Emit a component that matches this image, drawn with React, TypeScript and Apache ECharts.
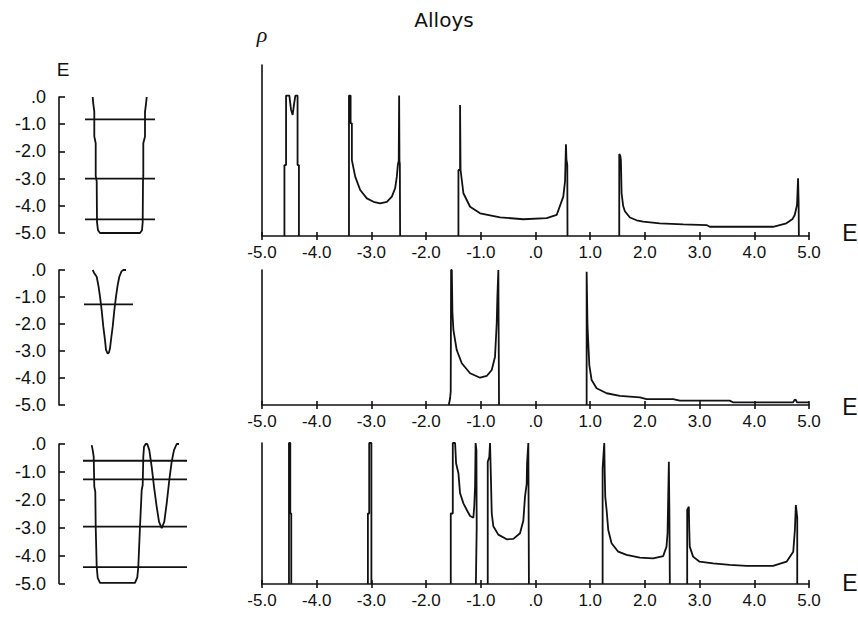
import React, { useEffect, useRef } from 'react';
import * as echarts from 'echarts';

// ---------- Left panels: potential profiles V(x) and energy levels (x in arbitrary position units) ----------
const wellTop: number[][] = [[33.7,0],[34.3,-0.25],[35.3,-0.55],[35.3,-1.45],[36.7,-1.7],[36.7,-2.9],[37.7,-3.1],[38,-4.6],[39,-4.9],[41,-5.0],[81,-5.0],[83,-4.9],[83.7,-4.6],[84,-3.1],[84.3,-2.9],[84.3,-1.7],[86,-1.45],[86,-0.55],[87,-0.25],[87.7,0]];
const levelsTop: number[] = [-0.82, -3.0, -4.5];
const levelSpanTop: number[] = [26, 96];

const wellMid: number[][] = [[33.7,0],[35,-0.1],[37.7,-0.25],[39.5,-0.6],[41,-0.99],[42.7,-1.5],[44.3,-2.1],[46,-2.6],[47,-2.96],[48.7,-3.1],[50,-3.05],[51,-2.9],[52.3,-2.5],[53.7,-2.1],[55.3,-1.5],[57,-0.99],[58.5,-0.6],[60.3,-0.25],[62.5,-0.05],[64.3,0],[67,0]];
const levelsMid: number[] = [-1.27];
const levelSpanMid: number[] = [25, 74];

const wellBot: number[][] = [[32.7,-0.04],[33.7,-0.22],[34.7,-0.46],[35.3,-1.53],[36.3,-1.71],[36.7,-2.96],[37.7,-4.4],[38.7,-4.8],[41,-4.98],[76,-4.98],[78.3,-4.78],[79.3,-4.4],[81,-2.96],[82.7,-1.65],[83.7,-1.47],[84.3,-0.46],[85,-0.1],[86.7,0],[88.3,0],[90.3,-0.22],[92.7,-0.82],[95,-1.53],[97.7,-2.25],[100,-2.78],[102.7,-3.02],[105.3,-2.78],[107.7,-2.13],[110.3,-1.29],[112.7,-0.63],[115,-0.22],[117.7,0],[120,0]];
const levelsBot: number[] = [-0.6, -1.27, -2.96, -4.41];
const levelSpanBot: number[] = [24, 128];

// ---------- Right panels: density of states rho(E), bands as [E, rho] ----------
const topBand1: number[][] = [[-4.59,0],[-4.59,0.415],[-4.56,0.415],[-4.56,0.821],[-4.50,0.821],[-4.47,0.74],[-4.44,0.708],[-4.41,0.78],[-4.39,0.821],[-4.35,0.821],[-4.35,0.415],[-4.325,0.415],[-4.325,0]];
const topBand2: number[][] = [[-3.41,0],[-3.41,0.821],[-3.38,0.821],[-3.38,0.659],[-3.357,0.659],[-3.357,0.444],[-3.296,0.347],[-3.205,0.269],[-3.083,0.22],[-2.962,0.2],[-2.84,0.191],[-2.717,0.2],[-2.626,0.23],[-2.566,0.279],[-2.535,0.347],[-2.517,0.415],[-2.5,0.44],[-2.493,0.821],[-2.487,0.44],[-2.48,0.42],[-2.475,0]];
const topBand3: number[][] = [[-1.409,0],[-1.409,0.386],[-1.379,0.386],[-1.379,0.766],[-1.37,0.766],[-1.37,0.386],[-1.318,0.25],[-1.196,0.171],[-1.013,0.133],[-0.648,0.109],[-0.223,0.098],[0.205,0.104],[0.387,0.123],[0.508,0.23],[0.54,0.32],[0.557,0.536],[0.565,0.45],[0.581,0.415],[0.585,0]];
const topBand4: number[][] = [[1.531,0],[1.531,0.48],[1.55,0.47],[1.561,0.444],[1.574,0.25],[1.603,0.175],[1.634,0.145],[1.726,0.108],[1.848,0.092],[1.969,0.084],[2.272,0.074],[2.7,0.068],[3.126,0.064],[3.186,0.054],[4.342,0.054],[4.587,0.074],[4.7,0.1],[4.739,0.123],[4.781,0.181],[4.8,0.337],[4.81,0.2],[4.815,0]];

const midBand1: number[][] = [[-1.585,0],[-1.561,0.05],[-1.55,0.1],[-1.543,1.0],[-1.53,1.0],[-1.519,0.691],[-1.501,0.556],[-1.44,0.407],[-1.348,0.309],[-1.196,0.235],[-1.013,0.202],[-0.891,0.215],[-0.8,0.259],[-0.74,0.358],[-0.709,0.605],[-0.697,0.802],[-0.679,1.0],[-0.672,1.0],[-0.667,0]];
const midBand2: number[][] = [[0.935,0],[0.935,0.987],[0.95,0.6],[0.965,0.457],[0.984,0.296],[1.026,0.185],[1.117,0.124],[1.3,0.087],[1.543,0.067],[1.908,0.057],[2.03,0.044],[2.516,0.044],[2.64,0.032],[3.55,0.032],[3.61,0.02],[4.71,0.02],[4.74,0.04],[4.76,0.037],[4.78,0.02],[5.0,0.02]];

const botBand1: number[][] = [[-4.507,0],[-4.507,1.0],[-4.483,1.0],[-4.483,0.5],[-4.465,0.5],[-4.465,0]];
const botBand2: number[][] = [[-3.064,0],[-3.064,0.5],[-3.04,0.5],[-3.04,1.0],[-3.0,1.0],[-3.0,0]];
const botBand3: number[][] = [[-1.549,0],[-1.549,0.5],[-1.512,0.5],[-1.512,1.0],[-1.47,1.0],[-1.452,0.856],[-1.409,0.785],[-1.379,0.643],[-1.318,0.572],[-1.256,0.525],[-1.196,0.482],[-1.136,0.47],[-1.12,0.55],[-1.105,0.69],[-1.095,1.0],[-1.08,0.95],[-1.075,0.4],[-1.09,0]];
const botBand4: number[][] = [[-0.873,0],[-0.873,0.867],[-0.845,0.9],[-0.831,1.0],[-0.823,1.0],[-0.815,0.75],[-0.8,0.5],[-0.771,0.41],[-0.68,0.35],[-0.526,0.317],[-0.405,0.32],[-0.283,0.36],[-0.222,0.45],[-0.192,0.62],[-0.161,0.71],[-0.155,0.85],[-0.131,1.0],[-0.12,1.0],[-0.12,0]];
const botBand5: number[][] = [[1.227,0],[1.227,0.82],[1.257,1.0],[1.265,0.8],[1.275,0.62],[1.3,0.525],[1.33,0.383],[1.391,0.289],[1.512,0.229],[1.665,0.206],[1.908,0.187],[2.151,0.182],[2.334,0.198],[2.395,0.265],[2.414,0.36],[2.438,0.867],[2.448,0.5],[2.456,0.5],[2.456,0]];
const botBand6: number[][] = [[2.773,0],[2.773,0.525],[2.803,0.548],[2.81,0.4],[2.82,0.265],[2.881,0.194],[3.0,0.158],[3.247,0.147],[3.552,0.135],[3.857,0.128],[4.342,0.128],[4.59,0.158],[4.712,0.229],[4.742,0.383],[4.76,0.56],[4.785,0.47],[4.785,0]];

const energyMin = -5;
const energyMax = 5;
const energyStep = 1;

const INK = '#111';
const FONT = '"Liberation Sans", Arial, sans-serif';

const fmt = (v: number) => (Math.abs(v) < 1e-9 ? '.0' : v.toFixed(1));

export default function App() {
  const ref = useRef<HTMLDivElement>(null);

  useEffect(() => {
    if (!ref.current) return;
    const chart = echarts.init(ref.current, undefined, { renderer: 'svg' });

    const leftGrids = [
      { left: 59, top: 97, width: 140, height: 136 },
      { left: 59, top: 270, width: 140, height: 135 },
      { left: 59, top: 444, width: 140, height: 139.5 },
    ];
    const rightGrids = [
      { left: 262, top: 65, width: 547, height: 171 },
      { left: 262, top: 270, width: 547, height: 135 },
      { left: 262, top: 443, width: 547, height: 141 },
    ];
    const grid = [...leftGrids, ...rightGrids];

    const xAxis: any[] = [];
    const yAxis: any[] = [];
    // left panels (grid 0..2)
    for (let i = 0; i < 3; i++) {
      xAxis.push({ type: 'value', gridIndex: i, min: 0, max: 140, show: false });
      yAxis.push({
        type: 'value', gridIndex: i, min: energyMin, max: 0, interval: energyStep,
        axisLine: { show: true, onZero: false, lineStyle: { color: INK, width: 1.6 } },
        axisTick: { show: true, inside: true, length: 6, lineStyle: { color: INK, width: 1.6 } },
        axisLabel: { formatter: fmt, color: INK, fontSize: 18, fontFamily: FONT, margin: 13 },
        splitLine: { show: false },
      });
    }
    // right panels (grid 3..5)
    for (let i = 3; i < 6; i++) {
      xAxis.push({
        type: 'value', gridIndex: i, min: energyMin, max: energyMax, interval: energyStep, position: 'bottom',
        axisLine: { show: true, onZero: false, lineStyle: { color: INK, width: 1.6 } },
        axisTick: { show: true, inside: false, length: 4, lineStyle: { color: INK, width: 1.6 } },
        axisLabel: { formatter: fmt, color: INK, fontSize: 17, fontFamily: FONT, margin: 8 },
        splitLine: { show: false },
      });
      yAxis.push({
        type: 'value', gridIndex: i, min: 0, max: 1, position: 'left',
        axisLine: { show: true, onZero: false, lineStyle: { color: INK, width: 1.6 } },
        axisTick: { show: false }, axisLabel: { show: false }, splitLine: { show: false },
      });
    }
    // inner ticks overlay for right panels (xAxis 6..8)
    for (let i = 3; i < 6; i++) {
      xAxis.push({
        type: 'value', gridIndex: i, min: energyMin, max: energyMax, interval: energyStep, position: 'bottom', offset: 0,
        axisLine: { show: false, onZero: false },
        axisTick: { show: true, inside: true, length: 4, lineStyle: { color: INK, width: 1.6 } },
        axisLabel: { show: false }, splitLine: { show: false },
      });
    }

    const line = (data: number[][], idx: number, name: string) => ({
      type: 'line', name, xAxisIndex: idx, yAxisIndex: idx, data,
      showSymbol: false, symbol: 'none', silent: true, clip: true,
      lineStyle: { color: INK, width: 1.8 },
    });

    const series: any[] = [];
    series.push(line(wellTop, 0, 'wellTop'));
    levelsTop.forEach((e, k) => series.push(line([[levelSpanTop[0], e], [levelSpanTop[1], e]], 0, 'levelTop' + k)));
    series.push(line(wellMid, 1, 'wellMid'));
    levelsMid.forEach((e, k) => series.push(line([[levelSpanMid[0], e], [levelSpanMid[1], e]], 1, 'levelMid' + k)));
    series.push(line(wellBot, 2, 'wellBot'));
    levelsBot.forEach((e, k) => series.push(line([[levelSpanBot[0], e], [levelSpanBot[1], e]], 2, 'levelBot' + k)));

    [topBand1, topBand2, topBand3, topBand4].forEach((b, k) => series.push(line(b, 3, 'top' + k)));
    [midBand1, midBand2].forEach((b, k) => series.push(line(b, 4, 'mid' + k)));
    [botBand1, botBand2, botBand3, botBand4, botBand5, botBand6].forEach((b, k) => series.push(line(b, 5, 'bot' + k)));

    const txt = (text: string, x: number, y: number, size: number, family = FONT, style = 'normal') => ({
      type: 'text', x, y, silent: true,
      style: { text, fill: INK, fontSize: size, fontFamily: family, fontStyle: style, align: 'center', verticalAlign: 'middle' },
    });

    chart.setOption({
      animation: false,
      backgroundColor: '#fff',
      grid,
      xAxis,
      yAxis,
      series,
      graphic: [
        txt('Alloys', 444, 20, 20, '"DejaVu Sans", sans-serif'),
        txt('ρ', 262, 34, 22, '"Liberation Serif", "DejaVu Serif", serif', 'italic'),
        txt('E', 63, 69, 19),
        txt('E', 850, 233, 23),
        txt('E', 850, 407, 23),
        txt('E', 850, 583, 23),
      ],
    });

    return () => chart.dispose();
  }, []);

  return <div ref={ref} style={{ position: 'fixed', left: 0, top: 0, width: 858, height: 618, background: '#fff' }} />;
}
